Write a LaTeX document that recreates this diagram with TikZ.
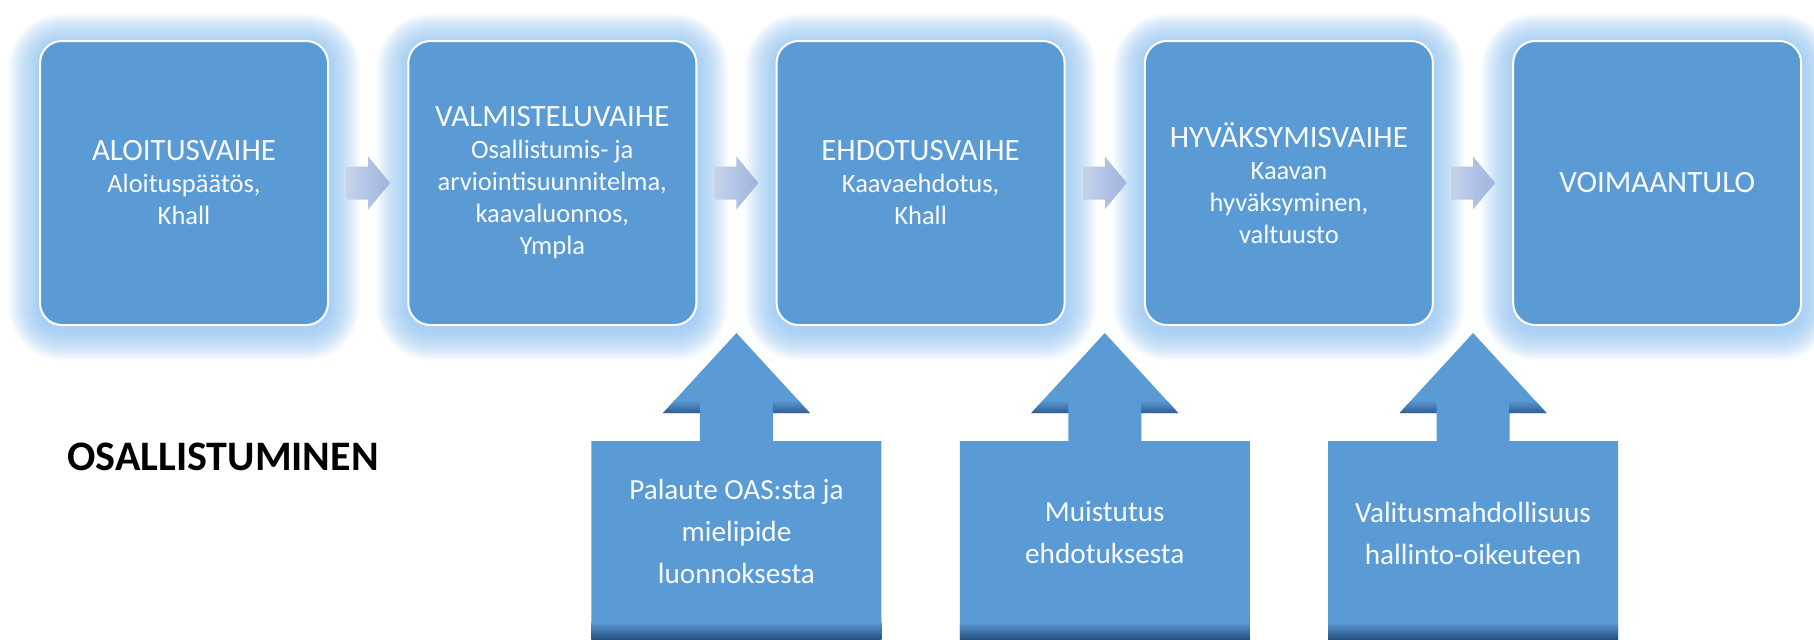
\documentclass[tikz,border=0pt]{standalone}
\usepackage{fontspec}
\setmainfont{Carlito}
\usetikzlibrary{calc}
\definecolor{boxblue}{RGB}{91,155,213}
\definecolor{glowblue}{RGB}{135,192,245}
\definecolor{arrowA}{RGB}{198,211,234}
\definecolor{arrowB}{RGB}{158,180,222}
\definecolor{darkblue}{RGB}{38,80,128}
\definecolor{txtwhite}{RGB}{248,250,253}
\pgfdeclarelayer{bgwhite}
\pgfdeclarelayer{glow}
\pgfsetlayers{bgwhite,glow,main}
\newcommand{\stagehead}[1]{{\fontsize{15.5}{16}\selectfont #1}}
\tikzset{
  stagebox/.style={draw=white, line width=1pt, fill=boxblue, rounded corners=11pt,
    minimum width=144pt, minimum height=142pt, inner sep=0pt, align=center,
    text=txtwhite, font=\fontsize{13.25}{16}\selectfont},
  calltxt/.style={align=center, text=txtwhite, inner sep=0pt,
    font=\fontsize{14.6}{21}\selectfont},
  callshape/.style={fill=boxblue},
  smallarrow/.style={left color=arrowA, right color=arrowB},
  sectlabel/.style={anchor=west, inner sep=0pt, font=\fontsize{21}{24}\selectfont\bfseries}
}
\begin{document}
\begin{tikzpicture}[x=0.5pt,y=-0.5pt]
\begin{pgfonlayer}{bgwhite}
  \fill[white] (0,0) rectangle (1814,639);
\end{pgfonlayer}
\useasboundingbox (0,0) rectangle (1814,639);
\coordinate (o) at (0,0);

% stage boxes
\node[stagebox] (s1) at (184,183) {\stagehead{ALOITUSVAIHE}\\Aloituspäätös,\\Khall};
\node[stagebox] (s2) at (552.3,183) {\stagehead{VALMISTELUVAIHE}\\Osallistumis- ja\\arviointisuunnitelma,\\kaavaluonnos,\\Ympla};
\node[stagebox] (s3) at (920.6,183) {\stagehead{EHDOTUSVAIHE}\\Kaavaehdotus,\\Khall};
\node[stagebox] (s4) at (1288.9,183) {\stagehead{HYVÄKSYMISVAIHE}\\Kaavan\\hyväksyminen,\\valtuusto};
\node[stagebox] (s5) at (1657.2,183) {\stagehead{VOIMAANTULO}};

% glow
\begin{pgfonlayer}{glow}
\foreach \s in {s1,s2,s3,s4,s5}{
  \foreach \k in {1,...,16}{
    \pgfmathsetmacro\rr{11+\k}
    \fill[glowblue, opacity=0.065, rounded corners=\rr pt]
      ($(\s.north west)+({-1.9*\k},{-1.9*\k+4})$) rectangle ($(\s.south east)+({1.9*\k},{1.9*\k+4})$);
  }
}
\end{pgfonlayer}

% small arrows between stages
\foreach \a/\b in {s1/s2,s2/s3,s3/s4,s4/s5}{
  \coordinate (m) at ($(\a.east)!0.5!(\b.west)$);
  \shade[smallarrow, shift={(m)}] (-22,-16.5) -- (0,-16.5) -- (0,-26.5) -- (22,0)
    -- (0,26.5) -- (0,16.5) -- (-22,16.5) -- cycle;
}

% gap coordinates for callouts
\coordinate (g23) at ($(s2.east)!0.5!(s3.west)$);
\coordinate (g34) at ($(s3.east)!0.5!(s4.west)$);
\coordinate (g45) at ($(s4.east)!0.5!(s5.west)$);

\foreach \g in {g23,g34,g45}{
  \begin{scope}[shift={(\g |- o)}]
    \fill[callshape] (-145,639) -- (-145,441) -- (-36.5,441) -- (-36.5,413) -- (-73.5,413)
      -- (0,333) -- (73.5,413) -- (36.5,413) -- (36.5,441) -- (145,441) -- (145,639) -- cycle;
    \shade[top color=boxblue, bottom color=darkblue, opacity=0.8]
      (-61.6,400) -- (-36.5,400) -- (-36.5,413) -- (-73.5,413) -- cycle;
    \shade[top color=boxblue, bottom color=darkblue, opacity=0.8]
      (61.6,400) -- (36.5,400) -- (36.5,413) -- (73.5,413) -- cycle;
    \shade[top color=boxblue, bottom color=darkblue] (-145,622) rectangle (145,639);
  \end{scope}
}

\node[calltxt] (c1) at ($(g23 |- o)+(0,531)$) {Palaute OAS:sta ja\\mielipide\\luonnoksesta};
\node[calltxt] (c2) at ($(g34 |- o)+(0,533)$) {Muistutus\\ehdotuksesta};
\node[calltxt] (c3) at ($(g45 |- o)+(0,533)$) {Valitusmahdollisuus\\hallinto-oikeuteen};

\node[sectlabel] (osal) at (67,457) {OSALLISTUMINEN};
\end{tikzpicture}
\end{document}
